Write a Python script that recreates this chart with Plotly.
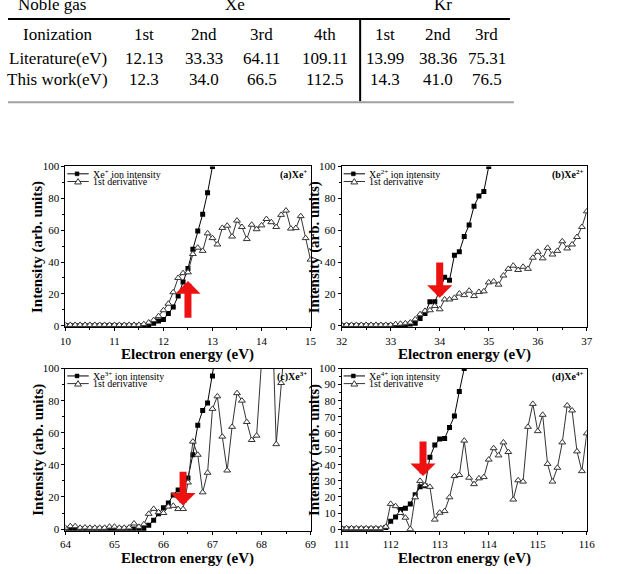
import plotly.graph_objects as go

FONT = "Liberation Serif, Times New Roman, serif"
W, H = 624, 574

# ---------------- table data ----------------
group_labels = ["Noble gas", "Xe", "Kr"]
header_row = ["Ionization", "1st", "2nd", "3rd", "4th", "1st", "2nd", "3rd"]
literature_row = ["Literature(eV)", "12.13", "33.33", "64.11", "109.11", "13.99", "38.36", "75.31"]
thiswork_row = ["This work(eV)", "12.3", "34.0", "66.5", "112.5", "14.3", "41.0", "76.5"]

# ---------------- panel data ----------------
energy_a = [10.0, 10.1, 10.2, 10.3, 10.4, 10.5, 10.6, 10.7, 10.8, 10.9,
            11.0, 11.1, 11.2, 11.3, 11.4, 11.5, 11.6, 11.7, 11.8, 11.9,
            12.0, 12.1, 12.2, 12.3, 12.4, 12.5, 12.6, 12.7, 12.8, 12.9,
            13.0, 13.1, 13.2, 13.3, 13.4, 13.5, 13.6, 13.7, 13.8, 13.9,
            14.0, 14.1, 14.2, 14.3, 14.4, 14.5, 14.6, 14.7, 14.8, 14.9, 15.0]
ion_a = [0, 0, 0, 0, 0, 0, 0, 0, 0, 0,
         0, 0, 0, 0, 0, 0, 0, 0.5, 1.5, 2.9,
         3.9, 7.6, 11.7, 18.7, 27.5, 36, 48, 59.5, 70, 83.5, 100]
deriv_a = [0.5, 0.5, 0.5, 0.5, 0.5, 0.5, 0.5, 0.5, 0.5, 0.5,
           0.5, 0.5, 0.5, 0.5, 0.5, 0.5, 1.0, 2.0, 3.5, 6.0,
           9.7, 13.8, 21, 30, 33, 33.5, 45, 49, 47, 58,
           55, 51, 61.4, 62.8, 56, 66, 62, 54.4, 63.4, 60.6,
           63, 67, 65, 62, 69.6, 72.3, 61, 61.3, 68.8, 55, 41.5]

energy_b = [32.0, 32.1, 32.2, 32.3, 32.4, 32.5, 32.6, 32.7, 32.8, 32.9,
            33.0, 33.1, 33.2, 33.3, 33.4, 33.5, 33.6, 33.7, 33.8, 33.9,
            34.0, 34.1, 34.2, 34.3, 34.4, 34.5, 34.6, 34.7, 34.8, 34.9,
            35.0, 35.1, 35.2, 35.3, 35.4, 35.5, 35.6, 35.7, 35.8, 35.9,
            36.0, 36.1, 36.2, 36.3, 36.4, 36.5, 36.6, 36.7, 36.8, 36.9, 37.0]
ion_b = [0, 0, 0, 0, 0, 0, 0, 0, 0, 0,
         0, 0, 0, 0.5, 1.0, 1.6, 4.5, 7.6, 15, 15,
         22, 30.5, 28.5, 44.3, 46.4, 56, 63.3, 75, 81.4, 84.3, 100]
deriv_b = [0.5, 0.5, 0.5, 0.5, 0.5, 0.5, 0.5, 0.5, 0.5, 0.5,
           0.5, 1.0, 1.2, 1.5, 2.0, 4.0, 7.2, 9.3, 9.7, 12.4,
           10.3, 16.5, 16.5, 17.5, 20.2, 19.2, 22, 18.6, 21.2, 21.6,
           27.2, 27.8, 25.8, 31.5, 35.7, 37.7, 35, 37, 35.7, 42.7,
           46.4, 42.3, 48.9, 44.7, 47, 53, 48.5, 51, 55.7, 62, 71.8]

energy_c = [64.0, 64.1, 64.2, 64.3, 64.4, 64.5, 64.6, 64.7, 64.8, 64.9,
            65.0, 65.1, 65.2, 65.3, 65.4, 65.5, 65.6, 65.7, 65.8, 65.9,
            66.0, 66.1, 66.2, 66.3, 66.4, 66.5, 66.6, 66.7, 66.8, 66.9,
            67.0, 67.1, 67.2, 67.3, 67.4, 67.5, 67.6, 67.7, 67.8, 67.9,
            68.0, 68.1, 68.2, 68.3, 68.4, 68.5]
ion_c = [0, 0, 0, 0, 0, 0, 0, 0, 0, 0,
         0, 0, 0, 0, 0, 0, 0.4, 2.4, 5.5, 9.6,
         13.3, 16.2, 21.3, 24.4, 27, 31.8, 46.3, 64.7, 73.9, 78.6,
         95.3, 115]
deriv_c = [0.8, 1.8, 1.8, 0.8, 1.0, 0.8, 0.8, 0.8, 0.8, 1.5,
           1.5, 0.8, 0.8, 1.0, 3.5, 1.4, 3.0, 9.5, 12.6, 10.5,
           10, 14, 14.5, 12.5, 12.5, 29, 54.5, 46.3, 22.9, 35.1,
           74.9, 82.7, 57.6, 36.5, 63.7, 84.7, 80, 66.7, 55.5, 58.2,
           104, 140, 150, 52.9, 91, 125]

energy_d = [111.0, 111.1, 111.2, 111.3, 111.4, 111.5, 111.6, 111.7, 111.8, 111.9,
            112.0, 112.1, 112.2, 112.3, 112.4, 112.5, 112.6, 112.7, 112.8, 112.9,
            113.0, 113.1, 113.2, 113.3, 113.4, 113.5, 113.6, 113.7, 113.8, 113.9,
            114.0, 114.1, 114.2, 114.3, 114.4, 114.5, 114.6, 114.7, 114.8, 114.9,
            115.0, 115.1, 115.2, 115.3, 115.4, 115.5, 115.6, 115.7, 115.8, 115.9, 116.0]
ion_d = [0, 0, 0, 0, 0, 0, 0, 0, 0, 1.0,
         4.9, 7.6, 12.2, 13, 15.7, 21.4, 26.3, 27, 44.7, 52.4,
         56.1, 56.5, 63.3, 70.4, 85.7, 100]
deriv_d = [0.5, 0.5, 0.5, 0.5, 0.5, 0.5, 0.5, 0.5, 0.5, 1.4,
           15.7, 14.3, 10, 7.1, 0, 19.8, 30, 27.3, 26.3, 5.9,
           10.2, 11.2, 19.8, 33, 33.7, 55.1, 32, 28, 31.6, 32.4,
           43.3, 50.4, 45.9, 54, 48, 18.4, 30.4, 29.6, 63.7, 78,
           61, 71.2, 40.6, 29.6, 38.2, 54, 77, 73.9, 48.4, 36.1, 59.6]

ion_names = ["Xe<sup>+</sup> ion intensity", "Xe<sup>2+</sup> ion intensity",
             "Xe<sup>3+</sup> ion intensity", "Xe<sup>4+</sup> ion intensity"]
deriv_name = "1st derivative"
panel_labels = ["<b>(a)Xe<sup>+</sup></b>", "<b>(b)Xe<sup>2+</sup></b>",
                "<b>(c)Xe<sup>3+</sup></b>", "<b>(d)Xe<sup>4+</sup></b>"]
x_ranges = [[10, 15], [32, 37], [64, 69], [111, 116]]
y_dticks = [20, 20, 20, 10]
# arrow: x, tail y, tip y
arrows = [(12.5, 4, 28), (34.0, 40.6, 17.5), (66.4, 36.7, 14.7), (112.66, 55.5, 33)]

energies = [energy_a, energy_b, energy_c, energy_d]
ions = [ion_a, ion_b, ion_c, ion_d]
derivs = [deriv_a, deriv_b, deriv_c, deriv_d]

# pixel boxes of the four plot areas: left, right, top, bottom
boxes = [(59, 311, 163.3, 327), (343, 595, 163.3, 327),
         (59, 311, 369, 534), (343, 595, 369, 534)]


def px(x):
    return x / W


def py(y):
    return 1 - y / H


fig = go.Figure()
annotations = []
shapes = []

for i in range(4):
    sfx = "" if i == 0 else str(i + 1)
    xa, ya = "x" + sfx, "y" + sfx
    e = energies[i]
    fig.add_trace(go.Scatter(
        x=e[:len(ions[i])], y=ions[i], mode="lines+markers", name=ion_names[i],
        line=dict(color="black", width=1),
        marker=dict(symbol="square", size=5, color="black"),
        xaxis=xa, yaxis=ya, showlegend=False))
    fig.add_trace(go.Scatter(
        x=e[:len(derivs[i])], y=derivs[i], mode="lines+markers", name=deriv_name,
        line=dict(color="#333333", width=1),
        marker=dict(symbol="triangle-up", size=6, color="white",
                    line=dict(color="#333333", width=1)),
        xaxis=xa, yaxis=ya, showlegend=False))

    l, r, t, b = boxes[i]
    common = dict(showline=True, linecolor="black", linewidth=1, mirror=True,
                  ticks="outside", ticklen=3, tickwidth=1, tickcolor="black",
                  showgrid=False, zeroline=False,
                  tickfont=dict(family=FONT, size=11, color="black"))
    fig.layout["xaxis" + sfx] = dict(
        common, domain=[px(l), px(r)], range=x_ranges[i], dtick=1, tick0=x_ranges[i][0],
        anchor=ya,
        minor=dict(ticks="outside", ticklen=2, dtick=0.5, tickcolor="black", showgrid=False))
    fig.layout["yaxis" + sfx] = dict(
        common, domain=[py(b), py(t)], range=[-1, 100], dtick=y_dticks[i], tick0=0,
        anchor=xa,
        minor=dict(ticks="outside", ticklen=2, dtick=y_dticks[i] / 2, tickcolor="black",
                   showgrid=False))

    # axis titles
    annotations.append(dict(text="<b>Electron energy (eV)</b>", xref="paper", yref="paper",
                            x=px((l + r) / 2), y=py(b + 28), xanchor="center", yanchor="middle",
                            showarrow=False, font=dict(family=FONT, size=15, color="black")))
    annotations.append(dict(text="<b>Intensity (arb. units)</b>", xref="paper", yref="paper",
                            x=px(l - 28), y=py((t + b) / 2), xanchor="center", yanchor="middle",
                            textangle=-90, showarrow=False,
                            font=dict(family=FONT, size=15, color="black")))
    # panel label
    annotations.append(dict(text=panel_labels[i], xref="paper", yref="paper",
                            x=px(r - 2), y=py(t + 8), xanchor="right", yanchor="middle",
                            showarrow=False, font=dict(family=FONT, size=10, color="black")))
    # hand-drawn legend
    for k, (txt, col) in enumerate([(ion_names[i], "black"), (deriv_name, "#333333")]):
        yy = t + 7.5 + 7.8 * k
        shapes.append(dict(type="line", xref="paper", yref="paper",
                           x0=px(l + 2), x1=px(l + 24), y0=py(yy), y1=py(yy),
                           line=dict(color=col, width=1)))
        if k == 0:
            shapes.append(dict(type="rect", xref="paper", yref="paper",
                               x0=px(l + 10), x1=px(l + 14), y0=py(yy - 2), y1=py(yy + 2),
                               fillcolor="black", line=dict(color="black", width=0.5)))
        else:
            shapes.append(dict(type="path", xref="paper", yref="paper",
                               path=f"M {px(l + 13)} {py(yy - 3)} L {px(l + 16.5)} {py(yy + 2.5)} "
                                    f"L {px(l + 9.5)} {py(yy + 2.5)} Z",
                               fillcolor="white", line=dict(color=col, width=1)))
        annotations.append(dict(text=txt, xref="paper", yref="paper",
                                x=px(l + 26), y=py(yy), xanchor="left", yanchor="middle",
                                showarrow=False, font=dict(family=FONT, size=10, color="black")))
    # red arrow
    ax_x, tail_y, tip_y = arrows[i]
    annotations.append(dict(x=ax_x, y=tip_y, ax=ax_x, ay=tail_y, xref=xa, yref=ya,
                            axref=xa, ayref=ya, text="", showarrow=True,
                            arrowhead=1, arrowsize=0.6, arrowwidth=7, arrowcolor="#ee1111"))

# ---------------- table ----------------
col_x = [51, 140, 202, 261, 326, 388, 442, 492]
group_x = [45, 233, 447]
row_y = [29, 53, 75]
for gx, g in zip(group_x, group_labels):
    annotations.append(dict(text=g, xref="paper", yref="paper", x=px(gx), y=py(-2),
                            xanchor="center", yanchor="middle", showarrow=False,
                            font=dict(family=FONT, size=17, color="black")))
for ry, row in zip(row_y, [header_row, literature_row, thiswork_row]):
    for cx, cell in zip(col_x, row):
        annotations.append(dict(text=cell, xref="paper", yref="paper", x=px(cx), y=py(ry),
                                xanchor="center", yanchor="middle", showarrow=False,
                                font=dict(family=FONT, size=17, color="black")))
shapes.append(dict(type="line", xref="paper", yref="paper", x0=0, x1=px(516),
                   y0=py(13.3), y1=py(13.3), line=dict(color="black", width=2)))
shapes.append(dict(type="line", xref="paper", yref="paper", x0=px(362), x1=px(362),
                   y0=py(13.3), y1=py(97), line=dict(color="black", width=2)))
shapes.append(dict(type="line", xref="paper", yref="paper", x0=0, x1=px(520),
                   y0=py(98), y1=py(98), line=dict(color="#a0a0a0", width=2)))

fig.update_layout(width=W, height=H, margin=dict(l=0, r=0, t=0, b=0),
                  paper_bgcolor="white", plot_bgcolor="white",
                  annotations=annotations, shapes=shapes, showlegend=False,
                  font=dict(family=FONT, color="black"))

fig.write_html("out.html", config={"displayModeBar": False},
               post_script="document.body.style.margin='0';document.body.style.padding='0';"
                           "document.documentElement.style.overflow='hidden';")
